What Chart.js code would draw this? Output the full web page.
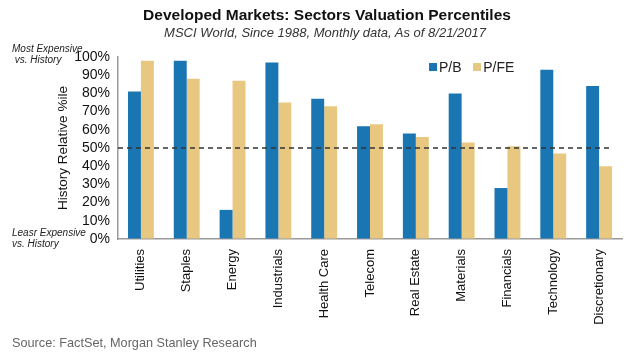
<!DOCTYPE html>
<html>
<head>
<meta charset="utf-8">
<script src="https://cdn.jsdelivr.net/npm/chart.js@4.4.1/dist/chart.umd.min.js"></script>
<style>
  html, body { margin: 0; padding: 0; background: #fff; }
  #wrap { position: relative; width: 640px; height: 360px; font-family: "Liberation Sans", Arial, sans-serif; }
  canvas { position: absolute; left: 0; top: 0; }
  .abs { position: absolute; white-space: nowrap; }
  #title { left: 0; width: 654px; text-align: center; top: 6px; font-size: 15.5px; font-weight: bold; color: #111; }
  #subtitle { left: 0; width: 650px; text-align: center; top: 25px; font-size: 13px; font-style: italic; color: #333; }
  .note { font-size: 10px; font-style: italic; color: #222; line-height: 11px; }
  #legend { left: 429px; top: 59px; font-size: 14px; color: #222; }
  #legend span.sw { display: inline-block; width: 8px; height: 8px; margin-right: 2px; vertical-align: 1px; }
  #source { left: 12px; top: 336px; font-size: 12.7px; color: #666; }
</style>
</head>
<body>
<div id="wrap">
  <canvas id="c" width="640" height="360"></canvas>
  <div class="abs" id="title">Developed Markets: Sectors Valuation Percentiles</div>
  <div class="abs" id="subtitle">MSCI World, Since 1988, Monthly data, As of 8/21/2017</div>
  <div class="abs note" style="left:12px; top:43px;">Most Expensive<br>&nbsp;vs. History</div>
  <div class="abs note" style="left:12px; top:227px;">Leasr Expensive<br>vs. History</div>
  <div class="abs" id="legend"><span class="sw" style="background:#1a76b2"></span>P/B&nbsp;&nbsp;&nbsp;<span class="sw" style="background:#e8c880"></span>P/FE</div>
  <div class="abs" id="source">Source: FactSet, Morgan Stanley Research</div>
</div>
<script>
const categories = ["Utilities", "Staples", "Energy", "Industrials", "Health Care", "Telecom", "Real Estate", "Materials", "Financials", "Technology", "Discretionary"];
const pbValues  = [81, 98, 16, 97, 77, 62, 58, 80, 28, 93, 84];
const pfeValues = [98, 88, 87, 75, 73, 63, 56, 53, 51, 47, 40];
const yTicks = [0, 10, 20, 30, 40, 50, 60, 70, 80, 90, 100];
const referenceLevel = 50;

const dashedLine = {
  id: 'dashedLine',
  afterDatasetsDraw(chart) {
    const y = chart.scales.y.getPixelForValue(referenceLevel);
    const ctx = chart.ctx;
    ctx.save();
    ctx.strokeStyle = '#333';
    ctx.lineWidth = 1.5;
    ctx.setLineDash([5, 4]);
    ctx.beginPath();
    ctx.moveTo(chart.chartArea.left, y);
    ctx.lineTo(chart.chartArea.right - 10, y);
    ctx.stroke();
    ctx.restore();
  }
};

new Chart(document.getElementById('c'), {
  type: 'bar',
  data: {
    labels: categories,
    datasets: [
      { label: 'P/B', data: pbValues, backgroundColor: '#1a76b2' },
      { label: 'P/FE', data: pfeValues, backgroundColor: '#e8c880' }
    ]
  },
  options: {
    responsive: false,
    animation: false,
    devicePixelRatio: 1,
    categoryPercentage: 0.565,
    barPercentage: 1.0,
    layout: { padding: { left: 50, right: 18, top: 57, bottom: 0 } },
    plugins: { legend: { display: false }, tooltip: { enabled: false }, title: { display: false } },
    scales: {
      x: {
        grid: { color: 'transparent', drawTicks: false },
        border: { display: true, color: '#9a9a9a', width: 1.5 },
        ticks: { minRotation: 90, maxRotation: 90, autoSkip: false, padding: 10, color: '#111', font: { family: 'Liberation Sans', size: 13 } },
        afterFit(scale) { scale.height = 121; }
      },
      y: {
        min: 0, max: 100,
        afterBuildTicks(scale) { scale.ticks = yTicks.map(v => ({ value: v })); },
        grid: { color: 'transparent', drawTicks: false },
        border: { display: true, color: '#9a9a9a', width: 1.5 },
        ticks: { autoSkip: false, padding: 8, color: '#111', font: { family: 'Liberation Sans', size: 14 }, callback: v => v + '%' },
        title: { display: true, text: 'History Relative %ile', color: '#111', font: { family: 'Liberation Sans', size: 13.5 }, padding: { top: 5, bottom: 0 } },
        afterFit(scale) { scale.width = 68; }
      }
    }
  },
  plugins: [dashedLine]
});
</script>
</body>
</html>
